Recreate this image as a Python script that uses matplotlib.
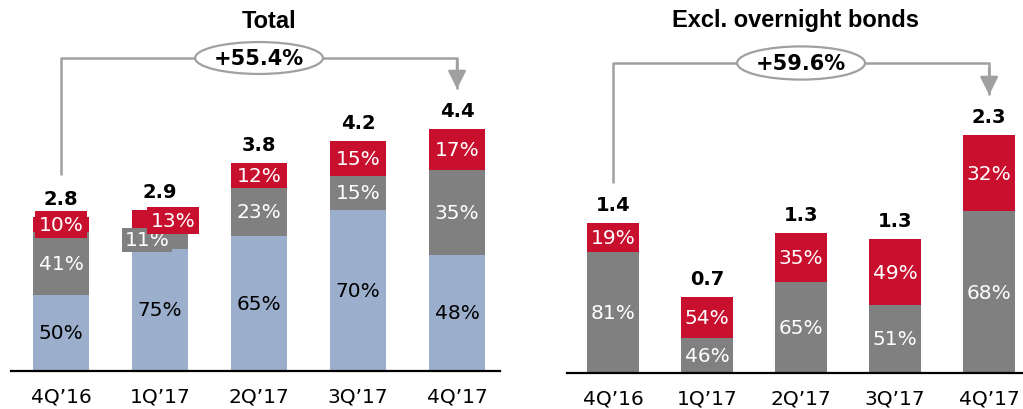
import matplotlib
matplotlib.use("Agg")
import matplotlib.pyplot as plt
from matplotlib.patches import Ellipse

# ---------------- data ----------------
quarters = ["4Q\u201916", "1Q\u201917", "2Q\u201917", "3Q\u201917", "4Q\u201917"]

total_values = [2.8, 2.93, 3.78, 4.18, 4.4]
total_labels = ["2.8", "2.9", "3.8", "4.2", "4.4"]
total_blue = [50, 75, 65, 70, 48]
total_gray = [41, 11, 23, 15, 35]
total_red = [10, 13, 12, 15, 17]
total_growth = "+55.4%"

excl_values = [1.4, 0.71, 1.31, 1.25, 2.22]
excl_labels = ["1.4", "0.7", "1.3", "1.3", "2.3"]
excl_gray = [81, 46, 65, 51, 68]
excl_red = [19, 54, 35, 49, 32]
excl_growth = "+59.6%"

BLUE = "#9bafcc"
GRAY = "#808080"
RED = "#c8102e"
LINE = "#a0a0a0"

W, H = 1023, 410
fig = plt.figure(figsize=(W / 100, H / 100), dpi=100)

PCT_FS = 14.5
VAL_FS = 14


def make_axes(left_px, right_px, base_px, xmin, xmax, ymax):
    ax = fig.add_axes([left_px / W, (H - base_px) / H,
                       (right_px - left_px) / W, base_px / H])
    ax.set_xlim(xmin, xmax)
    ax.set_ylim(0, ymax)
    for s in ["left", "right", "top"]:
        ax.spines[s].set_visible(False)
    ax.spines["bottom"].set_linewidth(1.6)
    ax.spines["bottom"].set_color("black")
    ax.set_yticks([])
    ax.set_xticks(range(len(quarters)))
    ax.set_xticklabels(quarters, fontsize=14.5, family="DejaVu Sans")
    ax.tick_params(axis="x", length=0, pad=11)
    ax.patch.set_alpha(0)
    return ax


def bracket(ax, y0, ytop, ytip, text, ex, ew, eh):
    ax.plot([0, 0, 4, 4], [y0, ytop, ytop, ytip + 0.001], color=LINE, lw=1.8,
            solid_capstyle="butt", zorder=3)
    ax.annotate("", xy=(4, ytip), xytext=(4, ytop - 0.05),
                arrowprops=dict(arrowstyle="-|>,head_length=1.1,head_width=0.55",
                                color=LINE, lw=1.8, shrinkA=0, shrinkB=0),
                zorder=3)
    e = Ellipse((ex, ytop), ew, eh, facecolor="white", edgecolor=LINE,
                lw=1.6, zorder=4)
    ax.add_patch(e)
    ax.text(ex, ytop, text, ha="center", va="center", fontsize=15,
            fontweight="bold", zorder=5, family="DejaVu Sans")


# ---------------- left: Total ----------------
axL = make_axes(11, 500, 372, -0.505, 4.434, 372 / 55)
bw = 0.566
x = list(range(len(quarters)))
for i in x:
    tot = total_values[i]
    s = total_blue[i] + total_gray[i] + total_red[i]
    hb = tot * total_blue[i] / s
    hg = tot * total_gray[i] / s
    hr = tot * total_red[i] / s
    axL.bar(i, hb, bw, color=BLUE, zorder=2)
    axL.bar(i, hg, bw, bottom=hb, color=GRAY, zorder=2)
    axL.bar(i, hr, bw, bottom=hb + hg, color=RED, zorder=2)
    small = hr < 0.45
    axL.text(i, hb / 2, f"{total_blue[i]}%", ha="center", va="center",
             fontsize=PCT_FS, color="black", zorder=6)
    gkw = {}
    goff = 0
    if hg < 0.45:
        gkw = dict(bbox=dict(boxstyle="square,pad=0.12", fc=GRAY, ec="none"))
        goff = -13
    axL.annotate(f"{total_gray[i]}%", (i, hb + hg / 2), xytext=(goff * 0.72, 0),
                 textcoords="offset points", ha="center", va="center",
                 fontsize=PCT_FS, color="white", zorder=6, **gkw)
    rkw = {}
    roff = 0
    if small:
        rkw = dict(bbox=dict(boxstyle="square,pad=0.18", fc=RED, ec="none"))
        if hg < 0.45:
            roff = 13
    axL.annotate(f"{total_red[i]}%", (i, hb + hg + hr / 2), xytext=(roff * 0.72, 0),
                 textcoords="offset points", ha="center", va="center",
                 fontsize=PCT_FS, color="white", zorder=7, **rkw)
    axL.annotate(total_labels[i], (i, tot), xytext=(0, 6.5),
                 textcoords="offset points", ha="center", va="bottom",
                 fontsize=VAL_FS, fontweight="bold", zorder=6)

bracket(axL, (372 - 176) / 55, (372 - 59) / 55, (372 - 90) / 55,
        total_growth, 2.0, 1.29, 0.58)

# ---------------- right: Excl. overnight bonds ----------------
axR = make_axes(567, 1023, 374, -0.489, 4.36, 374 / 107)
bw2 = 0.553
for i in x:
    tot = excl_values[i]
    s = excl_gray[i] + excl_red[i]
    hg = tot * excl_gray[i] / s
    hr = tot * excl_red[i] / s
    axR.bar(i, hg, bw2, color=GRAY, zorder=2)
    axR.bar(i, hr, bw2, bottom=hg, color=RED, zorder=2)
    axR.text(i, hg / 2, f"{excl_gray[i]}%", ha="center", va="center",
             fontsize=PCT_FS, color="white", zorder=6)
    axR.text(i, hg + hr / 2, f"{excl_red[i]}%", ha="center", va="center",
             fontsize=PCT_FS, color="white", zorder=6)
    axR.annotate(excl_labels[i], (i, tot), xytext=(0, 6.5),
                 textcoords="offset points", ha="center", va="bottom",
                 fontsize=VAL_FS, fontweight="bold", zorder=6)

bracket(axR, (374 - 184) / 107, (374 - 64) / 107, (374 - 96) / 107,
        excl_growth, 2.0, 1.36, 0.31)

# ---------------- titles ----------------
fig.text(269 / W, 1 - 21 / H, "Total", ha="center", va="center",
         fontsize=17, fontweight="bold", family="Liberation Sans")
fig.text(795 / W, 1 - 21 / H, "Excl. overnight bonds", ha="center", va="center",
         fontsize=17, fontweight="bold", family="Liberation Sans")

fig.savefig("out.png", dpi=100)
